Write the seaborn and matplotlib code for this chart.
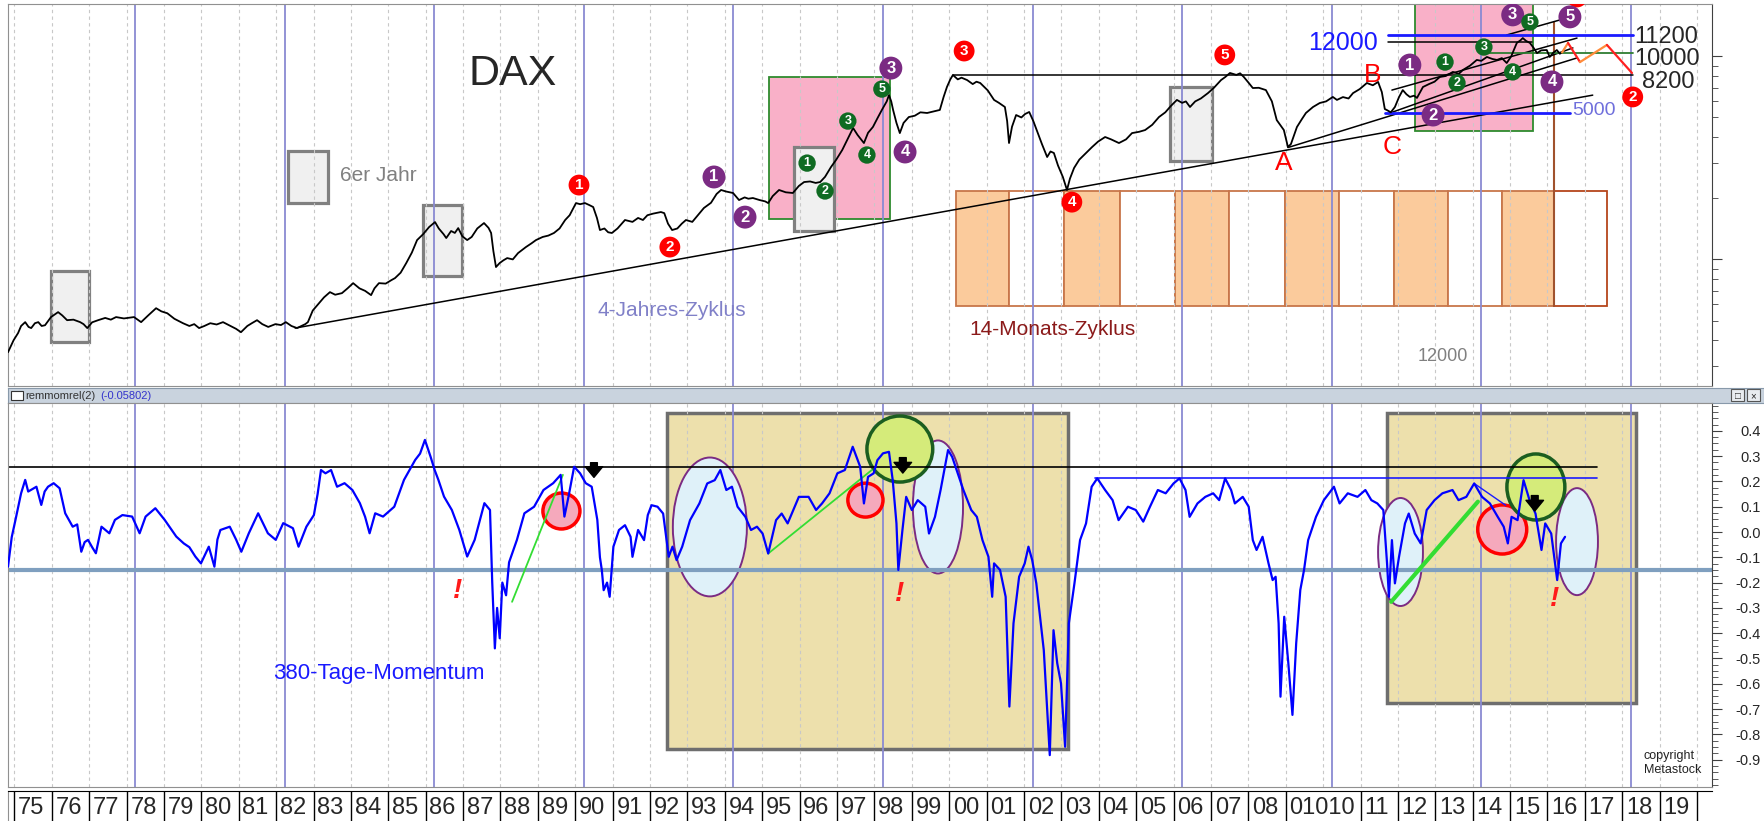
import numpy as np
import pandas as pd
import seaborn as sns
import matplotlib.pyplot as plt
from matplotlib.patches import Rectangle, Ellipse
from matplotlib.ticker import LogLocator, MultipleLocator, NullFormatter

sns.set_style('white')
plt.rcParams['font.family'] = ['Liberation Sans', 'DejaVu Sans']

dax_years = [1974.60, 1974.75, 1974.87, 1974.95, 1975.06, 1975.15, 1975.22, 1975.32, 1975.41, 1975.50,
             1975.59, 1975.75, 1975.94, 1976.05, 1976.18, 1976.35, 1976.53, 1976.62, 1976.72, 1976.85,
             1977.01, 1977.20, 1977.35, 1977.49, 1977.70, 1977.97, 1978.16, 1978.35, 1978.56, 1978.70,
             1978.86, 1979.05, 1979.28, 1979.45, 1979.58, 1979.71, 1979.85, 1980.01, 1980.18, 1980.35,
             1980.55, 1980.70, 1980.83, 1981.00, 1981.12, 1981.26, 1981.40, 1981.56, 1981.75, 1981.90,
             1982.03, 1982.18, 1982.33, 1982.45, 1982.55, 1982.62, 1982.75, 1982.92, 1983.05, 1983.21,
             1983.35, 1983.53, 1983.68, 1983.83, 1984.00, 1984.15, 1984.31, 1984.40, 1984.52, 1984.70,
             1984.85, 1984.95, 1985.10, 1985.25, 1985.40, 1985.54, 1985.70, 1985.86, 1986.02, 1986.12,
             1986.25, 1986.32, 1986.45, 1986.55, 1986.64, 1986.75, 1986.88, 1987.00, 1987.15, 1987.33,
             1987.45, 1987.52, 1987.58, 1987.65, 1987.75, 1987.85, 1987.95, 1988.10, 1988.24, 1988.45,
             1988.60, 1988.72, 1988.90, 1989.05, 1989.20, 1989.35, 1989.50, 1989.62, 1989.79, 1989.90,
             1990.03, 1990.15, 1990.25, 1990.35, 1990.43, 1990.55, 1990.65, 1990.75, 1990.90, 1991.10,
             1991.30, 1991.45, 1991.58, 1991.70, 1991.85, 1992.06, 1992.15, 1992.25, 1992.36, 1992.50,
             1992.62, 1992.73, 1992.90, 1993.05, 1993.21, 1993.40, 1993.55, 1993.67, 1993.80, 1993.99,
             1994.15, 1994.30, 1994.40, 1994.52, 1994.70, 1994.85, 1994.93, 1995.05, 1995.22, 1995.40,
             1995.59, 1995.75, 1995.89, 1996.05, 1996.20, 1996.32, 1996.45, 1996.61, 1996.75, 1996.91,
             1997.05, 1997.20, 1997.32, 1997.49, 1997.60, 1997.73, 1997.85, 1997.97, 1998.10, 1998.16,
             1998.22, 1998.27, 1998.36, 1998.45, 1998.55, 1998.69, 1998.85, 1999.00, 1999.18, 1999.35,
             1999.52, 1999.62, 1999.71, 1999.80, 1999.87, 2000.00, 2000.10, 2000.25, 2000.40, 2000.50,
             2000.60, 2000.80, 2000.97, 2001.10, 2001.26, 2001.32, 2001.37, 2001.45, 2001.56, 2001.70,
             2001.80, 2001.91, 2002.02, 2002.14, 2002.25, 2002.39, 2002.48, 2002.57, 2002.68, 2002.81,
             2002.92, 2003.00, 2003.11, 2003.25, 2003.40, 2003.59, 2003.75, 2003.94, 2004.10, 2004.31,
             2004.50, 2004.66, 2004.85, 2005.01, 2005.20, 2005.38, 2005.55, 2005.70, 2005.86, 2006.00,
             2006.10, 2006.21, 2006.35, 2006.50, 2006.69, 2006.85, 2007.04, 2007.15, 2007.28, 2007.45,
             2007.55, 2007.65, 2007.78, 2007.89, 2008.05, 2008.24, 2008.40, 2008.53, 2008.62, 2008.72,
             2008.83, 2008.91, 2009.07, 2009.20, 2009.31, 2009.50, 2009.68, 2009.85, 2010.03, 2010.14,
             2010.30, 2010.45, 2010.57, 2010.75, 2010.94, 2011.10, 2011.24, 2011.34, 2011.42, 2011.47,
             2011.58, 2011.69, 2011.80, 2011.90, 2012.00, 2012.09, 2012.20, 2012.28, 2012.44, 2012.60,
             2012.75, 2012.89, 2013.05, 2013.24, 2013.40, 2013.51, 2013.70, 2013.88, 2014.00, 2014.15,
             2014.30, 2014.42, 2014.55, 2014.68, 2014.80, 2014.95, 2015.05, 2015.11, 2015.20, 2015.30,
             2015.40, 2015.49, 2015.60, 2015.75, 2015.83, 2015.92, 2016.02, 2016.10, 2016.16]
dax_values = [349, 400, 434, 470, 491, 465, 459, 485, 491, 470,
              474, 520, 550, 530, 502, 505, 491, 480, 459, 490,
              502, 515, 505, 520, 512, 520, 491, 530, 575, 555,
              543, 510, 485, 470, 480, 459, 470, 485, 478, 491,
              470, 455, 438, 470, 485, 502, 480, 465, 480, 475,
              491, 470, 459, 470, 480, 491, 560, 609, 650, 690,
              670, 682, 720, 764, 720, 700, 667, 720, 764, 760,
              790, 809, 860, 959, 1080, 1245, 1330, 1442, 1527, 1420,
              1330, 1274, 1380, 1350, 1426, 1300, 1245, 1290, 1420, 1510,
              1430, 1349, 1100, 917, 960, 990, 1015, 1000, 1074, 1150,
              1200, 1245, 1290, 1310, 1349, 1420, 1563, 1650, 1894, 1870,
              1894, 1850, 1811, 1600, 1395, 1420, 1360, 1349, 1420, 1563,
              1530, 1600, 1563, 1650, 1680, 1711, 1690, 1500, 1395, 1420,
              1500, 1563, 1530, 1650, 1791, 1900, 2100, 2197, 2160, 2123,
              1960, 2020, 1990, 2006, 1960, 1930, 1894, 2050, 2197, 2140,
              2123, 2300, 2404, 2420, 2380, 2404, 2550, 2851, 3100, 3457,
              3900, 4437, 4100, 3741, 4200, 4487, 4950, 5445, 6000, 6442,
              6000, 5445, 4700, 4188, 4700, 5023, 5100, 5300, 5260, 5350,
              5445, 6300, 7063, 7700, 8091, 7700, 7850, 7640, 7300, 7500,
              7390, 6800, 6100, 5900, 5630, 4800, 3741, 4500, 5140, 5000,
              5200, 5320, 4800, 4188, 3700, 3193, 3400, 3342, 2900, 2547,
              2197, 2500, 2820, 3100, 3300, 3573, 3800, 4006, 3900, 3741,
              3900, 4188, 4250, 4335, 4600, 5023, 5300, 5700, 6100, 5900,
              6000, 5630, 6000, 6200, 6590, 7000, 7640, 7900, 8280, 8100,
              8250, 7910, 7400, 6980, 7000, 6820, 6000, 4853, 4600, 4335,
              3573, 3700, 4487, 4900, 5260, 5630, 5890, 6000, 6310, 6100,
              6300, 6200, 6590, 6900, 7390, 7200, 7480, 6670, 5500, 5445,
              5300, 5630, 6300, 6820, 6500, 6310, 6400, 6240, 7063, 7300,
              7500, 7910, 8000, 8380, 8200, 8570, 9000, 9600, 9500, 9930,
              9700, 9600, 9800, 9270, 10000, 11640, 12000, 12300, 11900, 11640,
              11000, 10370, 10700, 10740, 9930, 10400, 10740, 10300, 10450]

# Projektion nach 2016 (orange/rot)
proj_years = [2016.16, 2016.32, 2016.64, 2017.36, 2018.03]
proj_values = [10450, 11640, 9370, 11380, 8280]
proj_colors = ['#ff8c3a', '#ff2020', '#ff8c3a', '#ff2020']

# 380-Tage-Momentum
mom_years = [1974.60, 1974.70, 1974.80, 1974.95, 1975.06, 1975.14, 1975.21, 1975.36, 1975.49, 1975.58,
             1975.67, 1975.82, 1975.98, 1976.13, 1976.33, 1976.45, 1976.56, 1976.65, 1976.74, 1976.85,
             1976.95, 1977.10, 1977.31, 1977.46, 1977.66, 1977.92, 1978.12, 1978.28, 1978.54, 1978.79,
             1979.10, 1979.30, 1979.45, 1979.61, 1979.76, 1979.97, 1980.12, 1980.20, 1980.28, 1980.53,
             1980.70, 1980.84, 1981.04, 1981.29, 1981.55, 1981.76, 1981.96, 1982.22, 1982.37, 1982.58,
             1982.78, 1982.88, 1982.97, 1983.09, 1983.24, 1983.40, 1983.60, 1983.81, 1984.01, 1984.15,
             1984.27, 1984.42, 1984.63, 1984.93, 1985.19, 1985.49, 1985.62, 1985.75, 1985.90, 1986.01,
             1986.11, 1986.26, 1986.47, 1986.67, 1986.88, 1987.08, 1987.34, 1987.49, 1987.55, 1987.62,
             1987.68, 1987.75, 1987.82, 1987.92, 1988.00, 1988.21, 1988.41, 1988.67, 1988.92, 1989.18,
             1989.38, 1989.48, 1989.59, 1989.74, 1989.90, 1990.05, 1990.21, 1990.36, 1990.43, 1990.48,
             1990.53, 1990.62, 1990.69, 1990.79, 1990.94, 1991.10, 1991.25, 1991.30, 1991.45, 1991.61,
             1991.71, 1991.81, 1991.97, 1992.12, 1992.27, 1992.37, 1992.48, 1992.63, 1992.84, 1993.09,
             1993.30, 1993.50, 1993.65, 1993.81, 1993.96, 1994.11, 1994.32, 1994.47, 1994.63, 1994.78,
             1994.93, 1995.14, 1995.29, 1995.45, 1995.75, 1996.01, 1996.21, 1996.37, 1996.57, 1996.78,
             1996.98, 1997.19, 1997.29, 1997.39, 1997.49, 1997.60, 1997.75, 1997.85, 1998.00, 1998.16,
             1998.26, 1998.36, 1998.41, 1998.52, 1998.62, 1998.77, 1998.93, 1999.13, 1999.23, 1999.39,
             1999.54, 1999.74, 1999.85, 2000.00, 2000.15, 2000.36, 2000.51, 2000.66, 2000.82, 2000.92,
             2000.97, 2001.13, 2001.28, 2001.38, 2001.49, 2001.64, 2001.79, 2001.89, 2001.99, 2002.10,
             2002.20, 2002.30, 2002.46, 2002.56, 2002.66, 2002.76, 2002.87, 2002.97, 2003.12, 2003.27,
             2003.43, 2003.58, 2003.73, 2003.94, 2004.14, 2004.30, 2004.55, 2004.76, 2004.96, 2005.14,
             2005.35, 2005.56, 2005.77, 2005.93, 2006.09, 2006.20, 2006.41, 2006.62, 2006.83, 2006.99,
             2007.15, 2007.31, 2007.41, 2007.62, 2007.78, 2007.89, 2007.99, 2008.15, 2008.31, 2008.42,
             2008.50, 2008.58, 2008.63, 2008.73, 2008.84, 2008.95, 2009.05, 2009.16, 2009.26, 2009.37,
             2009.58, 2009.79, 2010.06, 2010.21, 2010.43, 2010.69, 2010.90, 2011.06, 2011.22, 2011.38,
             2011.48, 2011.53, 2011.61, 2011.69, 2011.80, 2011.96, 2012.06, 2012.22, 2012.38, 2012.54,
             2012.75, 2012.96, 2013.23, 2013.39, 2013.60, 2013.81, 2014.02, 2014.23, 2014.44, 2014.60,
             2014.71, 2014.81, 2014.97, 2015.13, 2015.29, 2015.45, 2015.61, 2015.71, 2015.87, 2016.03,
             2016.13, 2016.24]
mom_values = [-0.137, -0.02, 0.048, 0.153, 0.206, 0.16, 0.166, 0.179, 0.107, 0.16,
              0.179, 0.193, 0.173, 0.074, 0.021, 0.03, -0.078, -0.04, -0.031, -0.06,
              -0.084, 0.021, -0.005, 0.048, 0.067, 0.061, -0.005, 0.061, 0.094, 0.048,
              -0.018, -0.045, -0.06, -0.097, -0.124, -0.058, -0.137, -0.03, 0.008, 0.021,
              -0.03, -0.078, -0.005, 0.074, -0.005, -0.031, 0.035, 0.015, -0.058, 0.021,
              0.067, 0.15, 0.245, 0.232, 0.245, 0.179, 0.193, 0.166, 0.114, 0.06,
              -0.005, 0.074, 0.061, 0.100, 0.206, 0.285, 0.31, 0.364, 0.298, 0.245,
              0.206, 0.140, 0.087, 0.008, -0.097, -0.031, 0.114, 0.087, -0.2, -0.46,
              -0.3, -0.42, -0.2, -0.25, -0.12, -0.031, 0.074, 0.100, 0.166, 0.193,
              0.226, 0.061, 0.140, 0.258, 0.232, 0.193, 0.179, 0.048, -0.10, -0.15,
              -0.23, -0.20, -0.256, -0.058, 0.008, 0.027, -0.019, -0.098, 0.008, -0.032,
              0.067, 0.106, 0.10, 0.073, -0.098, -0.058, -0.111, -0.058, 0.047, 0.113,
              0.192, 0.205, 0.245, 0.166, 0.179, 0.10, 0.06, 0.008, 0.021, -0.006,
              -0.085, 0.047, 0.073, 0.034, 0.139, 0.139, 0.087, 0.113, 0.153, 0.232,
              0.245, 0.337, 0.297, 0.258, 0.113, 0.218, 0.232, 0.284, 0.311, 0.317,
              0.205, 0.034, -0.15, 0.008, 0.139, 0.087, 0.126, 0.10, -0.006, 0.06,
              0.166, 0.324, 0.297, 0.232, 0.166, 0.087, 0.060, -0.032, -0.098, -0.256,
              -0.124, -0.15, -0.256, -0.69, -0.361, -0.177, -0.124, -0.058, -0.111, -0.203,
              -0.335, -0.467, -0.882, -0.388, -0.519, -0.598, -0.849, -0.361, -0.203, -0.032,
              0.034, 0.179, 0.212, 0.166, 0.126, 0.047, 0.10, 0.087, 0.041, 0.10,
              0.166, 0.153, 0.192, 0.212, 0.166, 0.06, 0.113, 0.139, 0.153, 0.126,
              0.212, 0.166, 0.113, 0.139, 0.10, -0.032, -0.071, -0.019, -0.124, -0.19,
              -0.177, -0.361, -0.651, -0.335, -0.519, -0.723, -0.44, -0.229, -0.15, -0.032,
              0.06, 0.126, 0.179, 0.113, 0.153, 0.139, 0.166, 0.126, 0.113, 0.087,
              -0.124, -0.256, -0.032, -0.203, -0.098, 0.034, 0.073, -0.006, -0.045, 0.087,
              0.126, 0.153, 0.166, 0.126, 0.139, 0.192, 0.139, 0.113, 0.06, 0.021,
              -0.045, 0.06, 0.047, 0.205, 0.126, 0.073, -0.071, 0.034, -0.006, -0.19,
              -0.045, -0.019]

mom_ticks = [0.4, 0.3, 0.2, 0.1, 0.0, -0.1, -0.2, -0.3, -0.4, -0.5, -0.6, -0.7, -0.8, -0.9]
mom_tick_labels = ['0.4', '0.3', '0.2', '0.1', '0.0', '-0.1', '-0.2', '-0.3', '-0.4', '-0.5',
                   '-0.6', '-0.7', '-0.8', '-0.9']

# Jahresbeschriftung unten (09/10 stehen im Original zusammen als "01010")
cell_years = [1975, 1976, 1977, 1978, 1979, 1980, 1981, 1982, 1983, 1984, 1985, 1986, 1987,
              1988, 1989, 1990, 1991, 1992, 1993, 1994, 1995, 1996, 1997, 1998, 1999, 2000,
              2001, 2002, 2003, 2004, 2005, 2006, 2007, 2008, 2009, 2011, 2012, 2013, 2014,
              2015, 2016, 2017, 2018, 2019, 2020]
cell_labels = ['75', '76', '77', '78', '79', '80', '81', '82', '83', '84', '85', '86', '87',
               '88', '89', '90', '91', '92', '93', '94', '95', '96', '97', '98', '99', '00',
               '01', '02', '03', '04', '05', '06', '07', '08', '01010', '11', '12', '13', '14',
               '15', '16', '17', '18', '19', '']

# Wellenzaehlung (Jahr, Punkte, Nummer)
red_x = [1989.87, 1992.30, 2000.17, 2003.05, 2007.14, 2018.05, 2016.56]
red_y = [2323, 1150, 10620, 1914, 10160, 6310, 19600]
red_lbl = ['1', '2', '3', '4', '5', '2', '']
purple_x = [1993.48, 1994.31, 1998.21, 1998.59, 2012.09, 2012.71, 2014.84, 2015.89, 2016.37]
purple_y = [2546, 1615, 8750, 3380, 9060, 5140, 16000, 7480, 15640]
purple_lbl = ['1', '2', '3', '4', '1', '2', '3', '4', '5']
green_x = [1995.97, 1996.45, 1997.06, 1997.57, 1997.97, 2013.03, 2013.35, 2014.07, 2014.84, 2015.30]
green_y = [2980, 2172, 4800, 3266, 6900, 9370, 7390, 11110, 8380, 14750]
green_lbl = ['1', '2', '3', '4', '5', '1', '2', '3', '4', '5']

# 6er-Jahre (graue Kaesten): x0, x1, unten, oben
six_boxes = [(1975.75, 1976.77, 392, 877), (1982.09, 1983.16, 1893, 3420), (1985.70, 1986.74, 828, 1852),
             (1995.62, 1996.69, 1380, 3573), (2005.67, 2006.80, 3050, 7060)]
# 14-Monats-Zyklus Grenzen
cycle_edges = [1999.95, 2001.37, 2002.84, 2004.34, 2005.81, 2007.25, 2008.75, 2010.19, 2011.66,
               2013.11, 2014.55, 2015.94, 2017.36]

# Trendlinien oben: (x0, p0, x1, p1)
trend_lines = [(1982.28, 459, 2016.98, 6440), (2008.83, 3555, 2016.56, 9820),
               (2011.61, 6820, 2016.56, 12300), (2011.56, 5260, 2016.45, 11000),
               (2014.68, 12740, 2016.10, 15100), (1999.87, 8100, 2018.05, 8100),
               (2011.50, 11780, 2015.35, 11780)]

W, H = 1764, 821
XMIN, XMAX = 1974.6, 2020.17
fig = plt.figure(figsize=(W / 100, H / 100), dpi=100)


def px_box(x0, y0, x1, y1):
    return [x0 / W, 1 - y1 / H, (x1 - x0) / W, (y1 - y0) / H]


ax1 = fig.add_axes(px_box(8, 4, 1712, 386))
strip = fig.add_axes(px_box(8, 388, 1764, 403))
ax2 = fig.add_axes(px_box(8, 403, 1712, 787))
ax3 = fig.add_axes(px_box(8, 791, 1712, 821))

# Gitter: 4-Jahres-Linien und gestrichelte Jahreslinien
for ax in (ax1, ax2):
    for yr in range(1974, 2021):
        ax.axvline(yr + 0.77, color='#c8c8c8', lw=0.8, ls=(0, (3, 3)), zorder=0.5)
    for yr in range(1978, 2020, 4):
        ax.axvline(yr, color='#8a8ad2', lw=1.3, zorder=1.5)
    ax.set_xlim(XMIN, XMAX)
    ax.tick_params(bottom=False, labelbottom=False, left=False, labelleft=False)
    for s in ax.spines.values():
        s.set_color('#909090')

# ---- oberes Panel: DAX ----
ax1.set_yscale('log')
ax1.set_ylim(238, 18100)

ax1.add_patch(Rectangle((1994.95, 1580), 1998.19 - 1994.95, 7910 - 1580, fc='#f9b0c8', ec='#2e8b2e', lw=1.3, zorder=0.3))
ax1.add_patch(Rectangle((2012.22, 4290), 2015.38 - 2012.22, 18100 - 4290, fc='#f9b0c8', ec='#2e8b2e', lw=1.3, zorder=0.3))
for x0, x1, lo, hi in six_boxes:
    ax1.add_patch(Rectangle((x0, lo), x1 - x0, hi - lo, fc='#f0f0f0', ec='#808080', lw=2.3, zorder=0.4))
for i in range(len(cycle_edges) - 1):
    x0, x1 = cycle_edges[i], cycle_edges[i + 1]
    fc = '#fbcb9c' if i % 2 == 0 else 'white'
    ec = '#b5451b' if i == len(cycle_edges) - 2 else '#c8764a'
    ax1.add_patch(Rectangle((x0, 589), x1 - x0, 2174 - 589, fc=fc, ec=ec, lw=1.3, zorder=0.4))
ax1.plot([2015.94, 2015.94], [589, 14750], color='#a0522d', lw=1.5, zorder=2)

for x0, p0, x1, p1 in trend_lines:
    ax1.plot([x0, x1], [p0, p1], color='black', lw=1.1, zorder=2.5)
ax1.plot([2011.50, 2018.05], [12740, 12740], color='#1a1aff', lw=2, zorder=2.5)
ax1.plot([2013.96, 2018.05], [10380, 10380], color='#2e7d32', lw=1.3, zorder=2.5)
ax1.plot([2011.42, 2016.37], [5260, 5260], color='#1a1aff', lw=2, zorder=2.5)

dax = pd.DataFrame({'year': dax_years, 'dax': dax_values})
sns.lineplot(data=dax, x='year', y='dax', ax=ax1, color='black', lw=1.3, estimator=None, sort=False, zorder=3)
for i in range(len(proj_colors)):
    ax1.plot(proj_years[i:i + 2], proj_values[i:i + 2], color=proj_colors[i], lw=1.6, zorder=3)


def waves(ax, xs, ys, labels, color, size, fs):
    ax.scatter(xs, ys, s=size ** 2, color=color, edgecolors='none', zorder=6)
    for x, y, lab in zip(xs, ys, labels):
        ax.text(x, y, lab, color='white', fontsize=fs, fontweight='bold', ha='center', va='center', zorder=7)


waves(ax1, red_x, red_y, red_lbl, '#ff0000', 15, 11)
waves(ax1, purple_x, purple_y, purple_lbl, '#7b2b83', 16.5, 12)
waves(ax1, green_x, green_y, green_lbl, '#0f6b22', 12.5, 9)

for lab, x, p in [('A', 2008.72, 2980), ('B', 2011.10, 8091), ('C', 2011.61, 3573)]:
    ax1.text(x, p, lab, color='#ff0000', fontsize=19, ha='center', va='center', zorder=7)

ax1.text(1988.1, 8180, 'DAX', fontsize=31, ha='center', va='center')
ax1.text(1983.48, 2600, '6er Jahr', fontsize=15, color='#808080', va='center')
ax1.text(1992.36, 562, '4-Jahres-Zyklus', fontsize=15, color='#8080c8', ha='center', va='center')
ax1.text(2000.3, 454, '14-Monats-Zyklus', fontsize=15, color='#8b1a1a', va='center')
ax1.text(2012.97, 334, '12000', fontsize=13, color='#808080', ha='center', va='center')
ax1.text(2009.36, 11640, '12000', fontsize=18, color='#1a1aff', va='center')
ax1.text(2016.42, 5440, '5000', fontsize=14, color='#6f6fdc', va='center')
ax1.text(2018.1, 12450, '11200', fontsize=17, va='center')
ax1.text(2018.1, 9710, '10000', fontsize=17, va='center')
ax1.text(2018.3, 7480, '8200', fontsize=17, va='center')

ax1.yaxis.tick_right()
ax1.yaxis.set_major_locator(LogLocator(base=10))
ax1.yaxis.set_minor_locator(LogLocator(base=10, subs=np.arange(2, 10)))
ax1.yaxis.set_major_formatter(NullFormatter())
ax1.yaxis.set_minor_formatter(NullFormatter())
ax1.tick_params(axis='y', which='major', right=True, length=7, color='#404040')
ax1.tick_params(axis='y', which='minor', right=True, length=4, color='#404040')
ax1.spines['right'].set_color('#404040')
ax1.set_xlabel('')
ax1.set_ylabel('')

# ---- Indikator-Kopfzeile ----
strip.set_facecolor('#c9d3de')
strip.set_xlim(0, 1756)
strip.set_ylim(0, 1)
strip.set_xticks([])
strip.set_yticks([])
for s in strip.spines.values():
    s.set_color('#8899aa')
strip.add_patch(Rectangle((3, 0.2), 12, 0.6, fc='white', ec='#333333', lw=0.8))
strip.text(17, 0.45, 'remmomrel(2)', fontsize=8, color='#333333', va='center')
strip.text(92, 0.45, '(-0.05802)', fontsize=8, color='#3333cc', va='center')
for x0, sym in [(1723, '\u25a1'), (1739, '\u00d7')]:
    strip.add_patch(Rectangle((x0, 0.1), 13, 0.8, fc='#e8ecf0', ec='#555555', lw=0.8))
    strip.text(x0 + 6.5, 0.48, sym, fontsize=7, ha='center', va='center')

# ---- unteres Panel: Momentum ----
ax2.set_ylim(-1.008, 0.51)
ax2.add_patch(Rectangle((1992.22, -0.858), 2002.95 - 1992.22, 0.470 + 0.858, fc='#ede0ac', ec='#6e6e6e', lw=2.5, zorder=0.3))
ax2.add_patch(Rectangle((2011.48, -0.676), 2018.13 - 2011.48, 0.470 + 0.676, fc='#ede0ac', ec='#6e6e6e', lw=2.5, zorder=0.3))

for cx, cy, w, h in [(1993.37, 0.02, 1.98, 0.549), (1999.47, 0.099, 1.34, 0.526),
                     (2011.84, -0.079, 1.2, 0.427), (2016.56, -0.038, 1.12, 0.423)]:
    ax2.add_patch(Ellipse((cx, cy), w, h, fc='#dff1f9', ec='#7b2b83', lw=1.4, zorder=2))
for cx, cy, w, h in [(1989.40, 0.083, 0.99, 0.142), (1997.53, 0.126, 0.94, 0.134), (2014.56, 0.01, 1.31, 0.194)]:
    ax2.add_patch(Ellipse((cx, cy), w, h, fc='#f5a9bc', ec='#ff0000', lw=2.5, zorder=2))
for cx, cy, w, h in [(1998.45, 0.328, 1.76, 0.261), (2015.46, 0.178, 1.55, 0.261)]:
    ax2.add_patch(Ellipse((cx, cy), w, h, fc='#d5eb7a', ec='#1b5e20', lw=2.5, zorder=2))

ax2.axhline(-0.15, color='#7f9fbf', lw=3, zorder=2.2)
ax2.plot([XMIN, 2017.09], [0.257, 0.257], color='black', lw=1.2, zorder=2.4)
ax2.plot([2003.67, 2017.09], [0.213, 0.213], color='#1a1aff', lw=1.2, zorder=2.4)

ax2.plot([1988.08, 1989.44], [-0.276, 0.226], color='#33dd33', lw=1.3, zorder=2.6)
ax2.plot([1994.93, 1997.70], [-0.085, 0.245], color='#33dd33', lw=1.3, zorder=2.6)
ax2.plot([2011.59, 2013.91], [-0.276, 0.12], color='#33dd33', lw=3, zorder=2.6)
ax2.plot([2013.81, 2014.65], [0.192, 0.106], color='#1a1aff', lw=1, zorder=2.6)

mom = pd.DataFrame({'year': mom_years, 'mom': mom_values})
sns.lineplot(data=mom, x='year', y='mom', ax=ax2, color='#0000ff', lw=1.6, estimator=None, sort=False, zorder=3)

for x, v0, v1 in [(1990.27, 0.285, 0.205), (1998.53, 0.305, 0.222), (2015.43, 0.155, 0.072)]:
    ax2.annotate('', xy=(x, v1), xytext=(x, v0), zorder=5,
                 arrowprops=dict(arrowstyle='simple,head_length=0.55,head_width=0.9,tail_width=0.35',
                                 color='black', mutation_scale=14))
for x, v in [(1986.61, -0.233), (1998.45, -0.245), (2015.97, -0.265)]:
    ax2.text(x, v, '!', color='#ff1a1a', fontsize=20, fontweight='bold', fontstyle='italic',
             ha='center', va='center', zorder=5)

ax2.text(1984.52, -0.561, '380-Tage-Momentum', fontsize=16, color='#1a1aff', ha='center', va='center')
ax2.text(2018.35, -0.86, 'copyright\nMetastock', fontsize=9, color='#222222', va='top', linespacing=1.3)

ax2.yaxis.tick_right()
ax2.set_yticks(mom_ticks)
ax2.set_yticklabels(mom_tick_labels)
ax2.yaxis.set_minor_locator(MultipleLocator(0.025))
ax2.tick_params(axis='y', which='major', right=True, labelright=True, length=7, color='#404040',
                labelsize=10.5, pad=28)
ax2.tick_params(axis='y', which='minor', right=True, length=4, color='#404040')
for t in ax2.yaxis.get_major_ticks():
    t.label2.set_horizontalalignment('right')
ax2.spines['right'].set_color('#404040')
ax2.set_xlabel('')
ax2.set_ylabel('')

# ---- Jahresleiste ----
ax3.set_xlim(XMIN, XMAX)
ax3.set_ylim(0, 1)
ax3.set_xticks([])
ax3.set_yticks([])
for side in ['right', 'bottom']:
    ax3.spines[side].set_visible(False)
ax3.spines['top'].set_color('black')
ax3.spines['left'].set_color('#909090')
for yr, lab in zip(cell_years, cell_labels):
    ax3.axvline(yr - 0.23, color='black', lw=1)
    ax3.text(yr - 0.13, 0.45, lab, fontsize=17, va='center', ha='left')

fig.savefig('out.png', dpi=100)
